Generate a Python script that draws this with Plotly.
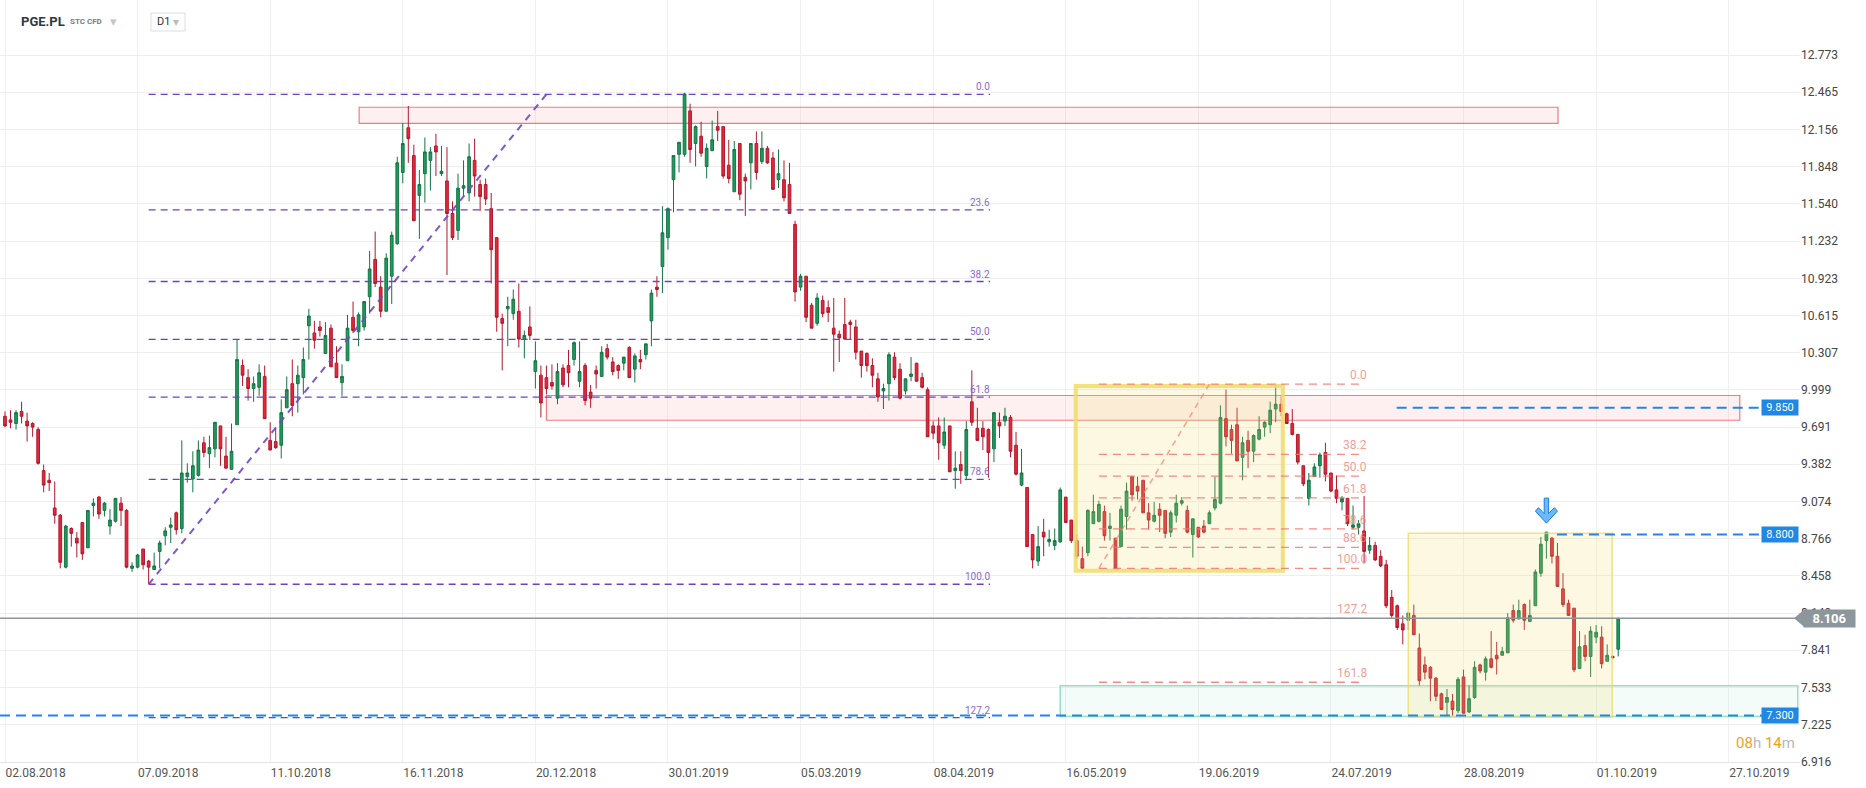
import plotly.graph_objects as go

# ---------------- data ----------------
opens = [9.78, 9.75, 9.72, 9.82, 9.74, 9.72, 9.67, 9.33, 9.25, 9.02, 8.96, 8.53, 8.85, 8.77, 8.90, 8.69, 9.04, 9.11, 9.00, 8.87,
         8.91, 9.06, 9.00, 8.52, 8.53, 8.68, 8.58, 8.51, 8.66, 8.79, 8.86, 8.98, 8.85, 9.28, 9.26, 9.29, 9.56, 9.47, 9.51, 9.70,
         9.45, 9.34, 9.71, 10.20, 10.10, 10.01, 10.02, 10.11, 9.58, 9.57, 9.54, 9.85, 10.05, 10.05, 10.10, 10.53, 10.47, 10.52, 10.30, 10.51,
         10.22, 10.06, 10.24, 10.60, 10.48, 10.52, 10.77, 11.08, 10.85, 10.65, 10.94, 11.21, 11.80, 12.17, 11.94, 11.61, 11.79, 11.90, 12.02, 11.79,
         11.73, 11.46, 11.32, 11.67, 11.63, 11.90, 11.70, 11.70, 11.50, 11.26, 10.59, 10.67, 10.63, 10.65, 10.42, 10.52, 10.15, 10.12, 10.10, 10.06,
         9.93, 10.18, 10.20, 10.25, 10.07, 10.20, 9.98, 10.16, 10.11, 10.34, 10.23, 10.20, 10.22, 10.35, 10.17, 10.25, 10.29, 10.57, 10.85, 11.02,
         11.26, 11.74, 11.95, 11.95, 12.31, 12.04, 12.10, 11.85, 11.98, 12.18, 12.18, 11.86, 11.64, 12.04, 11.76, 11.88, 12.04, 11.89, 12.00, 11.92,
         11.74, 11.74, 11.70, 11.37, 10.85, 10.94, 10.70, 10.55, 10.74, 10.68, 10.51, 10.46, 10.54, 10.56, 10.52, 10.32, 10.30, 10.20, 10.09, 9.99,
         10.05, 10.27, 10.17, 9.99, 10.11, 10.22, 10.10, 10.00, 9.70, 9.70, 9.54, 9.70, 9.33, 9.38, 9.29, 9.90, 9.68, 9.68, 9.67, 9.51,
         9.73, 9.74, 9.77, 9.54, 9.21, 9.19, 8.80, 8.58, 8.82, 8.74, 8.71, 8.74, 9.11, 8.92, 8.75, 8.60, 8.65, 8.89, 8.91, 8.99,
         8.85, 8.77, 8.70, 8.95, 9.28, 9.20, 9.25, 8.98, 8.91, 9.01, 9.00, 8.82, 8.96, 9.06, 9.00, 8.80, 8.86, 8.87, 8.89, 9.02,
         9.06, 9.76, 9.67, 9.71, 9.44, 9.58, 9.49, 9.59, 9.69, 9.71, 9.84, 9.88, 9.80, 9.72, 9.63, 9.37, 9.10, 9.28, 9.37, 9.48,
         9.31, 9.17, 9.07, 9.10, 8.86, 8.86, 8.83, 8.67, 8.71, 8.62, 8.55, 8.28, 8.21, 8.06, 8.09, 8.13, 7.86, 7.72, 7.70, 7.61,
         7.48, 7.41, 7.42, 7.34, 7.62, 7.33, 7.45, 7.72, 7.66, 7.77, 7.80, 7.80, 7.82, 8.17, 8.10, 8.22, 8.08, 8.21, 8.48, 8.75,
         8.77, 8.62, 8.35, 8.23, 8.19, 7.69, 7.88, 7.79, 7.95, 7.95, 7.75, 7.79, 7.85]
highs = [9.82, 9.83, 9.83, 9.90, 9.81, 9.73, 9.69, 9.38, 9.31, 9.24, 8.97, 8.88, 8.86, 8.82, 8.90, 9.00, 9.10, 9.12, 9.07, 9.01,
         9.10, 9.11, 9.01, 8.57, 8.64, 8.68, 8.59, 8.65, 8.75, 8.86, 8.94, 8.99, 9.58, 9.39, 9.49, 9.58, 9.61, 9.62, 9.73, 9.70,
         9.61, 9.72, 10.42, 10.25, 10.17, 10.11, 10.21, 10.20, 9.73, 9.68, 9.92, 10.11, 10.25, 10.20, 10.35, 10.67, 10.57, 10.57, 10.56, 10.54,
         10.36, 10.21, 10.62, 10.73, 10.64, 10.73, 11.15, 11.31, 10.94, 11.13, 11.31, 11.93, 12.21, 12.35, 12.03, 11.82, 12.09, 12.01, 12.12, 12.02,
         12.01, 11.56, 11.79, 11.90, 12.04, 12.08, 11.74, 11.75, 11.63, 11.26, 10.63, 10.77, 10.83, 10.88, 10.49, 10.69, 10.40, 10.20, 10.20, 10.21,
         10.22, 10.21, 10.33, 10.40, 10.40, 10.22, 10.04, 10.20, 10.36, 10.38, 10.27, 10.21, 10.27, 10.36, 10.30, 10.33, 10.38, 10.83, 10.94, 11.52,
         11.51, 11.94, 12.05, 12.46, 12.37, 12.19, 12.22, 12.04, 12.23, 12.31, 12.18, 12.07, 12.06, 12.04, 11.79, 12.04, 12.14, 12.14, 12.02, 11.97,
         11.99, 11.90, 11.88, 11.40, 10.96, 10.94, 10.72, 10.80, 10.78, 10.74, 10.76, 10.49, 10.76, 10.58, 10.58, 10.32, 10.31, 10.26, 10.14, 10.05,
         10.31, 10.31, 10.22, 10.09, 10.27, 10.22, 10.14, 10.02, 9.74, 9.77, 9.77, 9.70, 9.49, 9.49, 9.74, 10.16, 9.85, 9.74, 9.68, 9.81,
         9.81, 9.85, 9.79, 9.65, 9.51, 9.19, 8.80, 8.87, 8.93, 8.84, 8.85, 9.19, 9.11, 8.92, 8.80, 8.70, 9.01, 9.13, 9.08, 9.04,
         8.98, 8.77, 9.04, 9.23, 9.28, 9.28, 9.25, 9.06, 9.07, 9.06, 9.00, 9.00, 9.13, 9.11, 9.04, 8.93, 8.86, 8.92, 9.00, 9.28,
         9.87, 10.00, 9.71, 9.85, 9.61, 9.66, 9.63, 9.78, 9.74, 9.90, 10.05, 9.95, 9.81, 9.84, 9.63, 9.37, 9.31, 9.39, 9.48, 9.56,
         9.31, 9.29, 9.12, 9.10, 9.04, 8.92, 9.12, 8.78, 8.74, 8.67, 8.59, 8.34, 8.22, 8.13, 8.15, 8.22, 7.98, 7.79, 7.71, 7.62,
         7.49, 7.52, 7.48, 7.62, 7.68, 7.55, 7.75, 7.73, 7.79, 8.00, 7.91, 7.87, 8.15, 8.22, 8.26, 8.23, 8.26, 8.51, 8.78, 8.82,
         8.78, 8.73, 8.48, 8.26, 8.19, 8.00, 7.97, 8.04, 8.05, 8.04, 7.89, 7.80, 8.11]
lows = [9.69, 9.68, 9.67, 9.72, 9.57, 9.61, 9.38, 9.15, 9.16, 8.89, 8.52, 8.52, 8.70, 8.61, 8.59, 8.69, 8.95, 8.93, 8.95, 8.80,
        8.90, 8.87, 8.52, 8.49, 8.52, 8.51, 8.39, 8.51, 8.52, 8.71, 8.73, 8.80, 8.81, 9.23, 9.15, 9.28, 9.44, 9.35, 9.44, 9.37,
        9.35, 9.34, 9.71, 10.03, 9.91, 9.90, 9.95, 9.76, 9.50, 9.51, 9.43, 9.85, 9.78, 9.81, 9.96, 10.25, 10.34, 10.44, 10.30, 10.19,
        10.10, 9.95, 10.24, 10.47, 10.36, 10.49, 10.63, 10.85, 10.60, 10.65, 10.71, 11.20, 11.71, 11.88, 11.40, 11.25, 11.55, 11.65, 11.77, 11.77,
        10.95, 11.24, 11.24, 11.60, 11.56, 11.60, 11.48, 11.53, 10.88, 10.48, 10.16, 10.36, 10.58, 10.35, 10.26, 10.41, 10.01, 9.77, 9.96, 10.00,
        9.88, 10.02, 10.02, 10.20, 10.02, 9.87, 9.85, 10.01, 10.11, 10.25, 10.12, 10.09, 10.16, 10.10, 10.06, 10.17, 10.25, 10.36, 10.77, 10.80,
        11.16, 11.47, 11.80, 11.93, 11.88, 11.85, 11.93, 11.75, 11.98, 12.06, 11.75, 11.71, 11.64, 11.57, 11.44, 11.66, 11.74, 11.87, 11.87, 11.66,
        11.67, 11.56, 11.46, 10.73, 10.82, 10.56, 10.51, 10.53, 10.60, 10.56, 10.15, 10.23, 10.42, 10.42, 10.25, 10.10, 10.15, 10.02, 9.90, 9.84,
        9.91, 10.08, 9.92, 9.96, 10.07, 10.07, 10.01, 9.61, 9.59, 9.42, 9.51, 9.32, 9.18, 9.22, 9.25, 9.70, 9.58, 9.50, 9.27, 9.40,
        9.60, 9.70, 9.44, 9.29, 9.20, 8.70, 8.52, 8.54, 8.62, 8.70, 8.67, 8.73, 8.90, 8.73, 8.60, 8.51, 8.62, 8.89, 8.90, 8.75,
        8.75, 8.51, 8.70, 8.84, 9.08, 9.09, 8.98, 8.84, 8.90, 8.82, 8.77, 8.78, 8.90, 9.04, 8.81, 8.61, 8.77, 8.81, 8.89, 9.00,
        9.05, 9.53, 9.47, 9.41, 9.25, 9.35, 9.40, 9.58, 9.61, 9.64, 9.73, 9.78, 9.72, 9.62, 9.38, 9.20, 9.04, 9.28, 9.27, 9.24,
        9.15, 9.06, 9.00, 8.87, 8.84, 8.80, 8.56, 8.64, 8.58, 8.53, 8.19, 8.11, 8.01, 7.89, 8.01, 7.97, 7.55, 7.60, 7.42, 7.42,
        7.35, 7.30, 7.30, 7.32, 7.32, 7.32, 7.44, 7.65, 7.59, 7.69, 7.64, 7.80, 7.82, 8.07, 8.10, 8.01, 8.08, 8.21, 8.45, 8.60,
        8.56, 8.37, 8.20, 8.13, 7.66, 7.69, 7.75, 7.62, 7.90, 7.69, 7.75, 7.77, 7.79]
closes = [9.70, 9.73, 9.81, 9.78, 9.70, 9.69, 9.39, 9.21, 9.23, 8.96, 8.57, 8.87, 8.81, 8.73, 8.64, 9.00, 9.06, 8.97, 9.06, 8.92,
          9.10, 9.00, 8.53, 8.54, 8.63, 8.55, 8.53, 8.54, 8.73, 8.83, 8.88, 8.84, 9.31, 9.31, 9.37, 9.50, 9.48, 9.52, 9.73, 9.51,
          9.35, 9.49, 10.25, 10.12, 10.01, 10.05, 10.14, 9.76, 9.50, 9.52, 9.81, 10.00, 9.87, 10.12, 10.25, 10.61, 10.41, 10.49, 10.45, 10.19,
          10.10, 10.11, 10.51, 10.49, 10.62, 10.73, 11.00, 10.88, 10.65, 11.09, 11.28, 11.88, 12.04, 12.08, 11.40, 11.70, 11.97, 11.97, 11.97, 11.81,
          11.46, 11.26, 11.67, 11.69, 11.93, 11.77, 11.60, 11.58, 11.16, 10.60, 10.55, 10.69, 10.75, 10.42, 10.45, 10.45, 10.24, 9.89, 10.01, 10.03,
          10.15, 10.04, 10.14, 10.39, 10.15, 9.91, 9.93, 10.13, 10.31, 10.27, 10.15, 10.16, 10.27, 10.10, 10.28, 10.23, 10.38, 10.80, 10.83, 11.30,
          11.50, 11.94, 12.05, 12.45, 11.99, 12.18, 11.96, 12.00, 12.07, 12.15, 11.77, 11.75, 11.99, 11.62, 11.73, 12.04, 11.80, 12.00, 11.88, 11.66,
          11.79, 11.59, 11.46, 10.81, 10.94, 10.60, 10.51, 10.76, 10.63, 10.64, 10.46, 10.43, 10.42, 10.54, 10.31, 10.20, 10.20, 10.12, 9.94, 10.01,
          10.29, 10.10, 9.93, 10.09, 10.13, 10.07, 10.02, 9.61, 9.64, 9.56, 9.65, 9.32, 9.35, 9.33, 9.67, 9.73, 9.58, 9.61, 9.48, 9.81,
          9.70, 9.78, 9.49, 9.30, 9.31, 8.70, 8.59, 8.70, 8.78, 8.76, 8.75, 9.17, 8.90, 8.75, 8.62, 8.52, 9.00, 8.99, 9.05, 8.79,
          8.87, 8.52, 9.01, 9.16, 9.13, 9.16, 8.98, 8.92, 8.96, 8.96, 8.81, 8.98, 9.06, 9.08, 8.82, 8.93, 8.78, 8.82, 8.98, 9.09,
          9.77, 9.61, 9.58, 9.41, 9.56, 9.49, 9.62, 9.67, 9.73, 9.83, 9.88, 9.82, 9.72, 9.63, 9.40, 9.22, 9.25, 9.36, 9.46, 9.30,
          9.16, 9.10, 9.10, 8.89, 8.88, 8.89, 8.66, 8.71, 8.59, 8.54, 8.21, 8.13, 8.03, 8.01, 8.15, 7.97, 7.59, 7.66, 7.61, 7.46,
          7.35, 7.45, 7.35, 7.60, 7.32, 7.44, 7.70, 7.67, 7.77, 7.70, 7.77, 7.83, 8.11, 8.09, 8.17, 8.09, 8.13, 8.49, 8.72, 8.82,
          8.62, 8.37, 8.22, 8.13, 7.68, 7.87, 7.79, 8.00, 7.99, 7.73, 7.80, 7.78, 8.106]
bar_index = list(range(len(opens)))

date_tick_index = [0, 24, 48, 72, 96, 120, 144, 168, 192, 216, 240, 264, 288, 312]
date_labels = ["02.08.2018", "07.09.2018", "11.10.2018", "16.11.2018", "20.12.2018", "30.01.2019", "05.03.2019",
               "08.04.2019", "16.05.2019", "19.06.2019", "24.07.2019", "28.08.2019", "01.10.2019", "27.10.2019"]
price_ticks = [6.916, 7.225, 7.533, 7.841, 8.149, 8.458, 8.766, 9.074, 9.382, 9.691, 9.999, 10.307,
               10.615, 10.923, 11.232, 11.540, 11.848, 12.156, 12.465, 12.773]
price_labels = ["%.3f" % v for v in price_ticks]

# drawing tools (analysis overlays)
fib1_high, fib1_low = 12.447, 8.388
fib1_levels = [0.0, 23.6, 38.2, 50.0, 61.8, 78.6, 100.0, 127.2]
fib1_span = [26, 178.3]
fib1_trend_end = 98

fib2_high, fib2_low = 10.047, 8.520
fib2_levels = [0.0, 38.2, 50.0, 61.8, 78.6, 88.6, 100.0, 127.2, 161.8]
fib2_span = [198, 245.8]
fib2_trend_end = 218

red_zones = [(64.1, 281.1, 12.207, 12.340), (98.0, 314.0, 9.747, 9.952)]
teal_zone = (191.0, 324.5, 7.293, 7.548)
yellow_box_thick = (193.8, 231.3, 8.500, 10.031)
yellow_box_thin = (254.0, 290.9, 7.286, 8.810)
blue_levels = [9.85, 8.80, 7.30]
blue_starts = [251.9, 280.9, None]
last_price = 8.106

# ---------------- figure ----------------
X_MIN, X_MAX = -0.905, 324.9
Y_MIN, Y_MAX = 6.9155, 13.2287
PLOT_W, PLOT_H = 1800, 762
PX_X = PLOT_W / (X_MAX - X_MIN)
PX_Y = PLOT_H / (Y_MAX - Y_MIN)
FONT = "Roboto, Arial, sans-serif"

def ypaper(p):
    return (p - Y_MIN) / (Y_MAX - Y_MIN)

fig = go.Figure()
fig.add_trace(go.Candlestick(
    x=bar_index, open=opens, high=highs, low=lows, close=closes,
    increasing=dict(fillcolor="#1f9b5c", line=dict(color="#137444", width=1)),
    decreasing=dict(fillcolor="#e3283b", line=dict(color="#b0192a", width=1)),
    whiskerwidth=0, hoverinfo="skip", showlegend=False))

shapes = []
annots = []

# zones between grid and candles
for (x0, x1, y0, y1) in red_zones:
    shapes.append(dict(type="rect", xref="x", yref="y", x0=x0, x1=x1, y0=y0, y1=y1, layer="between",
                       fillcolor="rgba(245,140,140,0.13)", line=dict(color="rgba(236,110,110,0.9)", width=1.2)))
x0, x1, y0, y1 = teal_zone
shapes.append(dict(type="rect", xref="x", yref="y", x0=x0, x1=x1, y0=y0, y1=y1, layer="between",
                   fillcolor="rgba(170,228,205,0.13)", line=dict(color="rgba(140,220,190,0.9)", width=1.5)))

# yellow boxes above the candles
x0, x1, y0, y1 = yellow_box_thick
shapes.append(dict(type="rect", xref="x", yref="y", x0=x0, x1=x1, y0=y0, y1=y1, layer="above",
                   fillcolor="rgba(240,222,110,0.2)", line=dict(color="rgba(240,220,105,0.85)", width=4)))
x0, x1, y0, y1 = yellow_box_thin
shapes.append(dict(type="rect", xref="x", yref="y", x0=x0, x1=x1, y0=y0, y1=y1, layer="above",
                   fillcolor="rgba(240,222,110,0.2)", line=dict(color="rgba(236,218,110,0.8)", width=1.5)))

# Fibonacci 1 (purple)
rng1 = fib1_high - fib1_low
for lv in fib1_levels:
    y = fib1_high - rng1 * lv / 100.0
    shapes.append(dict(type="line", xref="x", yref="y", x0=fib1_span[0], x1=fib1_span[1], y0=y, y1=y,
                       layer="above", line=dict(color="#6b42c6", width=1.3, dash="7px,5px")))
    annots.append(dict(x=fib1_span[1] + 0.3, y=y, xref="x", yref="y", text="%.1f" % lv, showarrow=False,
                       xanchor="right", yanchor="bottom", yshift=0,
                       font=dict(family=FONT, size=10, color="#8a68d2")))
shapes.append(dict(type="line", xref="x", yref="y", x0=fib1_span[0], x1=fib1_trend_end, y0=fib1_low, y1=fib1_high,
                   layer="above", line=dict(color="rgba(112,70,200,0.9)", width=2, dash="7px,6px")))

# Fibonacci 2 (salmon)
rng2 = fib2_high - fib2_low
for lv in fib2_levels:
    y = fib2_high - rng2 * lv / 100.0
    shapes.append(dict(type="line", xref="x", yref="y", x0=fib2_span[0], x1=fib2_span[1], y0=y, y1=y,
                       layer="above", line=dict(color="rgba(242,120,110,0.85)", width=1.3, dash="8px,6px")))
    annots.append(dict(x=fib2_span[1] + 1.0, y=y, xref="x", yref="y", text="%.1f" % lv, showarrow=False,
                       xanchor="right", yanchor="bottom", yshift=0,
                       font=dict(family=FONT, size=12, color="rgba(242,130,125,0.8)")))
shapes.append(dict(type="line", xref="x", yref="y", x0=fib2_span[0], x1=fib2_trend_end, y0=fib2_low, y1=fib2_high,
                   layer="above", line=dict(color="rgba(242,140,120,0.8)", width=1.5, dash="6px,5px")))

# current price line
shapes.append(dict(type="line", xref="paper", yref="y", x0=0, x1=1, y0=last_price, y1=last_price,
                   layer="above", line=dict(color="#8d969b", width=1.5)))

# blue horizontal levels + tags
for lvl, start in zip(blue_levels, blue_starts):
    if start is None:
        shapes.append(dict(type="line", xref="paper", yref="y", x0=0, x1=1762 / PLOT_W, y0=lvl, y1=lvl,
                           layer="above", line=dict(color="#1f87e6", width=2, dash="10px,6px")))
    else:
        shapes.append(dict(type="line", xref="x", yref="y", x0=start, x1=(1762 / PX_X) + X_MIN, y0=lvl, y1=lvl,
                           layer="above", line=dict(color="#1f87e6", width=2, dash="10px,6px")))
    annots.append(dict(x=1780 / PLOT_W, y=lvl, xref="paper", yref="y", text="%.3f" % lvl, showarrow=False,
                       xanchor="center", yanchor="middle", bgcolor="#1f87e6", borderpad=1, width=34, height=13,
                       font=dict(family=FONT, size=11, color="white")))

# current price tag (outside the plot, on the axis)
tip_y = ypaper(last_price)
half = 8.5 / PLOT_H
shapes.append(dict(type="path", xref="paper", yref="paper", layer="above",
                   path="M %f,%f L %f,%f L %f,%f Z" % (1794 / PLOT_W, tip_y, 1804 / PLOT_W, tip_y + half,
                                                      1804 / PLOT_W, tip_y - half),
                   fillcolor="#8d969b", line=dict(width=0)))
annots.append(dict(x=1803 / PLOT_W, y=last_price, xref="paper", yref="y", text="<b>%.3f</b>" % last_price,
                   showarrow=False, xanchor="left", yanchor="middle", bgcolor="#8d969b", borderpad=2,
                   width=47, height=13, font=dict(family=FONT, size=13, color="white")))

# blue down arrow above the recent swing high
seg = range(260, len(highs))
peak_i = max(seg, key=lambda k: highs[k])
tip_p = highs[peak_i] + 9 / PX_Y
pts = [(0, 0), (11, 12), (8, 15.5), (2.2, 9.5), (2.2, 25), (-2.2, 25), (-2.2, 9.5), (-8, 15.5), (-11, 12)]
path = "M " + " L ".join("%f,%f" % (peak_i + dx / PX_X, tip_p + dy / PX_Y) for dx, dy in pts) + " Z"
shapes.append(dict(type="path", xref="x", yref="y", path=path, layer="above",
                   fillcolor="#6db8f6", line=dict(color="#1e7fd9", width=1)))

# header
def hdr(xpx, text, size, color, ypx=22):
    annots.append(dict(x=xpx / PLOT_W, y=1 - ypx / PLOT_H, xref="paper", yref="paper", text=text,
                       showarrow=False, xanchor="left", yanchor="middle",
                       font=dict(family=FONT, size=size, color=color)))
hdr(19, "<b>PGE.PL</b>", 13, "#2e3a45")
hdr(68, "<b>STC CFD</b>", 8, "#71808f")
hdr(108, "▾", 13, "#c3c7cb")
shapes.append(dict(type="rect", xref="paper", yref="paper", x0=151 / PLOT_W, x1=185 / PLOT_W,
                   y0=1 - 31 / PLOT_H, y1=1 - 13 / PLOT_H, layer="above",
                   fillcolor="white", line=dict(color="#d9dde0", width=1)))
hdr(155, "D1", 11, "#333")
hdr(171, "▾", 12, "#bbbbbb")

# countdown
annots.append(dict(x=1797 / PLOT_W, y=1 - 743 / PLOT_H, xref="paper", yref="paper",
                   text="<span style='color:#f5a01a'>08</span><span style='color:#b8b8b8'>h</span> "
                        "<span style='color:#f5a01a'>14</span><span style='color:#b8b8b8'>m</span>",
                   showarrow=False, xanchor="right", yanchor="middle", font=dict(family=FONT, size=15)))

fig.update_layout(
    width=1866, height=788,
    margin=dict(l=0, r=66, t=0, b=26),
    paper_bgcolor="white", plot_bgcolor="white",
    showlegend=False, shapes=shapes, annotations=annots,
    font=dict(family=FONT),
    xaxis=dict(range=[X_MIN, X_MAX], rangeslider=dict(visible=False), tickmode="array",
               tickvals=date_tick_index, ticktext=date_labels, ticklabelposition="outside right",
               showgrid=True, gridcolor="#f0f0f0", gridwidth=1, zeroline=False,
               showline=True, linecolor="#e4e4e4", ticks="",
               tickfont=dict(family=FONT, size=12, color="#555")),
    yaxis=dict(range=[Y_MIN, Y_MAX], side="right", tickmode="array", tickvals=price_ticks, ticktext=price_labels,
               showgrid=True, gridcolor="#eeeeee", gridwidth=1, zeroline=False, showline=False, ticks="",
               tickfont=dict(family=FONT, size=12, color="#444")),
)

fig.write_html("out.html", config={"displayModeBar": False},
               post_script="document.body.style.margin='0px';document.body.style.overflow='hidden';")
